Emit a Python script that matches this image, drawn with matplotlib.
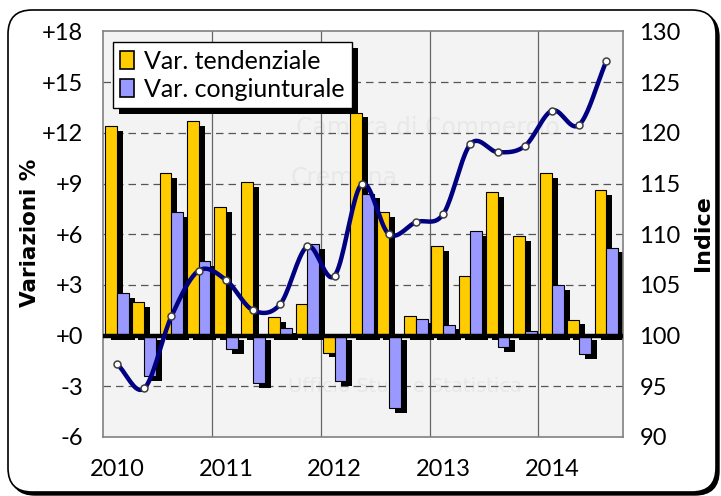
import numpy as np
import matplotlib.pyplot as plt
from matplotlib.patches import Rectangle, FancyBboxPatch, Patch
from matplotlib.transforms import IdentityTransform

years = ['2010', '2011', '2012', '2013', '2014']
var_tendenziale = [12.4, 2.0, 9.6, 12.7, 7.6, 9.1, 1.1, 1.9, -1.0, 13.2,
                   7.3, 1.15, 5.3, 3.5, 8.5, 5.9, 9.6, 0.95, 8.6]
var_congiunturale = [2.5, -2.4, 7.3, 4.4, -0.8, -2.8, 0.45, 5.4, -2.7, 8.4,
                     -4.3, 1.0, 0.65, 6.2, -0.7, 0.3, 3.0, -1.1, 5.2]
indice = [97.2, 94.8, 101.9, 106.4, 105.5, 102.5, 103.1, 108.8, 105.9, 114.95,
          110.0, 111.2, 112.0, 118.9, 118.1, 118.7, 122.2, 120.8, 127.1]

YELLOW = '#FFCC00'
BLUE = '#9999FF'
NAVY = '#000080'
FONT = 'Lato'


def smooth(x, y, n=20):
    # catmull-rom curve through the points (like excel "smoothed line")
    x = np.asarray(x, float)
    y = np.asarray(y, float)
    px = np.concatenate([[2 * x[0] - x[1]], x, [2 * x[-1] - x[-2]]])
    py = np.concatenate([[2 * y[0] - y[1]], y, [2 * y[-1] - y[-2]]])
    xs, ys = [], []
    t = np.linspace(0, 1, n, endpoint=False)
    for i in range(1, len(px) - 2):
        for p, out in ((px, xs), (py, ys)):
            p0, p1, p2, p3 = p[i - 1], p[i], p[i + 1], p[i + 2]
            out.extend(0.5 * ((2 * p1) + (-p0 + p2) * t +
                              (2 * p0 - 5 * p1 + 4 * p2 - p3) * t ** 2 +
                              (-p0 + 3 * p1 - 3 * p2 + p3) * t ** 3))
    xs.append(x[-1])
    ys.append(y[-1])
    return np.array(xs), np.array(ys)


fig = plt.figure(figsize=(7.21, 4.96), dpi=100)
fig.patch.set_facecolor('white')

# rounded frame with shadow
shadow = FancyBboxPatch((11, 1), 708, 482, boxstyle='round,pad=0,rounding_size=24',
                        transform=IdentityTransform(), facecolor='black', edgecolor='black')
frame = FancyBboxPatch((8, 4), 708, 482, boxstyle='round,pad=0,rounding_size=24',
                       transform=IdentityTransform(), facecolor='white', edgecolor='black', lw=1.2)
fig.add_artist(shadow)
fig.add_artist(frame)

ax = fig.add_axes([0.1422, 0.1190, 0.8637 - 0.1422, 0.9365 - 0.1190])
ax.set_facecolor('#F3F3F3')
ax.set_zorder(2)

n = len(var_tendenziale)
x = np.arange(n)
w = 0.435
dx, dy = 0.22, 0.28

# faint watermark
for txt, xx, yy, fs in [('Camera di Commercio', 6.6, 12.3, 17),
                        ('Cremona', 6.4, 9.3, 17),
                        ('Ufficio Studi e Statistica', 6.3, -3.0, 14)]:
    ax.text(xx, yy, txt, fontsize=fs, color='#E8E8E8', family='DejaVu Sans',
            ha='left', va='center', zorder=0.5, clip_on=True)

# shadows
ax.bar(x - w / 2 + dx, var_tendenziale, w, bottom=-dy, color='black', zorder=2)
ax.bar(x + w / 2 + dx, var_congiunturale, w, bottom=-dy, color='black', zorder=2)
ax.bar(x - w / 2, var_tendenziale, w, color=YELLOW, edgecolor='black', lw=0.8, zorder=3)
ax.bar(x + w / 2, var_congiunturale, w, color=BLUE, edgecolor='black', lw=0.8, zorder=3)

ax.axhline(0, color='black', lw=3.2, zorder=4)
for yv in [-3, 3, 6, 9, 12, 15]:
    ax.axhline(yv, color='#555555', lw=0.9, ls=(0, (6, 4)), zorder=1)
for xv in [3.5, 7.5, 11.5, 15.5]:
    ax.axvline(xv, color='#666666', lw=0.9, zorder=1)

ax.set_xlim(-0.535, 18.6)
ax.set_ylim(-6, 18)
ax.set_yticks(range(-6, 19, 3))
ax.set_yticklabels([('+%d' % v if v >= 0 else '-%d' % -v) for v in range(-6, 19, 3)])
ax.set_xticks(x[::4])
ax.set_xticklabels(years)
ax.tick_params(length=0, labelsize=17, pad=14)
ax.tick_params(axis='x', pad=16)
for lab in ax.get_xticklabels() + ax.get_yticklabels():
    lab.set_family(FONT)
for s in ax.spines.values():
    s.set_color('#808080')
    s.set_linewidth(1.2)

ax2 = ax.twinx()
ax2.set_ylim(90, 130)
ax2.set_yticks(range(90, 131, 5))
ax2.tick_params(length=0, labelsize=17, pad=12)
for lab in ax2.get_yticklabels():
    lab.set_family(FONT)
for s in ax2.spines.values():
    s.set_visible(False)

sx, sy = smooth(x, indice)
ax2.plot(sx, sy, color=NAVY, lw=3.2, solid_capstyle='round', zorder=5)
ax2.plot(x, indice, 'o', ms=5, mfc='white', mec='#404040', mew=1.1, zorder=6)

handles = [Patch(facecolor=YELLOW, edgecolor='black', lw=1.2, label='Var. tendenziale'),
           Patch(facecolor=BLUE, edgecolor='black', lw=1.2, label='Var. congiunturale')]
leg = ax2.legend(handles=handles, loc='upper left', bbox_to_anchor=(0.02, 0.973),
                 borderaxespad=0, fancybox=False, framealpha=1, edgecolor='black',
                 prop={'family': FONT, 'size': 18}, handlelength=0.55, handleheight=0.75,
                 handletextpad=0.4, borderpad=0.3, labelspacing=0.2)
leg.get_frame().set_linewidth(1.0)
leg.set_zorder(8)

fig.text(0.042, 0.53, 'Variazioni %', rotation=90, ha='center', va='center',
         fontsize=15.5, fontweight='bold', family='DejaVu Sans')
fig.text(0.975, 0.53, 'Indice', rotation=90, ha='center', va='center',
         fontsize=16, fontweight='bold', family='DejaVu Sans')

fig.canvas.draw()
bb = leg.get_window_extent()
ax2.add_patch(Rectangle((bb.x0 + 6, bb.y0 - 6), bb.width, bb.height, transform=IdentityTransform(),
                        facecolor='black', edgecolor='none', zorder=7.5, clip_on=False))

fig.savefig('out.png', dpi=100)
